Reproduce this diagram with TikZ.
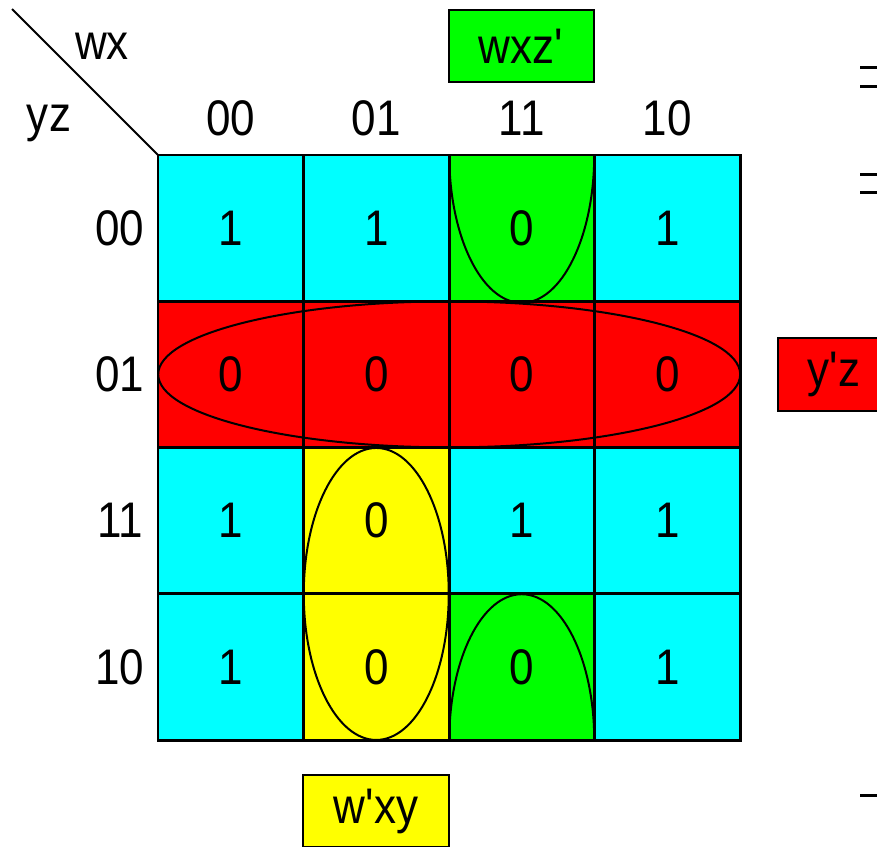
\documentclass[tikz,border=0pt]{standalone}
\usepackage{fontspec}
\setmainfont{Liberation Sans}[FakeStretch=0.88]
\definecolor{kcyan}{RGB}{0,255,255}
\definecolor{kred}{RGB}{255,0,0}
\definecolor{kgreen}{RGB}{0,255,0}
\definecolor{kyellow}{RGB}{255,255,0}
\newcommand{\pr}{\textquotesingle}
\begin{document}
\begin{tikzpicture}[x=1pt,y=-1pt,
  txt/.style={font=\fontsize{50}{50}\selectfont, inner sep=0pt},
  cell/.style={txt, minimum width=145.5pt, minimum height=146.25pt},
  gridline/.style={line width=2.6pt},
  loop/.style={line width=2pt},
  tag/.style={txt, draw, line width=2.4pt, minimum width=145.5pt, minimum height=72pt}]
\clip (0,0) rectangle (877,846);
\fill[white] (0,0) rectangle (877,846);

% cells: rows yz = 00,01,11,10 ; columns wx = 00,01,11,10
\def\cx#1{158+145.5*(#1+0.5)}
\def\cy#1{155+146.25*(#1+0.5)}
\foreach \r/\row in {0/{1/kcyan,1/kcyan,0/kgreen,1/kcyan},
                      1/{0/kred,0/kred,0/kred,0/kred},
                      2/{1/kcyan,0/kyellow,1/kcyan,1/kcyan},
                      3/{1/kcyan,0/kyellow,0/kgreen,1/kcyan}}{
  \foreach [count=\c from 0] \v/\col in \row {
    \node[cell, fill=\col] (c\r\c) at ({\cx{\c}},{\cy{\r}}) {\v};
  }
}

% groupings
\draw[loop] (c11.north east |- c11.center) ellipse [x radius=291pt, y radius=73pt];
\draw[loop] (c21.south) ellipse [x radius=72.5pt, y radius=146pt];
\begin{scope}
  \clip (c02.north west) rectangle (c02.south east);
  \draw[loop] (c02.north) ellipse [x radius=72.5pt, y radius=148pt];
\end{scope}
\begin{scope}
  \clip (c32.north west) rectangle (c32.south east);
  \draw[loop] (c32.south) ellipse [x radius=72.5pt, y radius=146pt];
\end{scope}

% grid lines
\foreach \r in {0,1,2,3}{
  \foreach \c in {0,1,2,3}{
    \draw[gridline] (c\r\c.north west) rectangle (c\r\c.south east);
  }
}

% headers
\coordinate (corner) at (12,9);
\draw[line width=2pt] (corner) -- (c00.north west);
\node[txt] (wx) at (102,46) {wx};
\node[txt] (yz) at (49,123) {yz};
\foreach \c/\t in {0/00,1/01,2/11,3/10}{
  \node[txt] (h\c) at ({\cx{\c}},118.5) {\t};
}
\foreach \r/\t in {0/00,1/01,2/11,3/10}{
  \node[txt] (v\r) at (120,{\cy{\r}}) {\t};
}

% term labels
\node[tag, fill=kgreen] (tg) at (521.5,46) {wxz\pr};
\node[tag, fill=kred, minimum width=112pt, minimum height=73pt] (tr) at (834,374.5) {y\pr z};
\node[tag, fill=kyellow] (ty) at (376,811) {w\pr xy};

% marks at the right edge
\foreach \yy in {67,86,174,192,795}{
  \draw[line width=3pt] (860,\yy) -- (877,\yy);
}
\end{tikzpicture}
\end{document}
